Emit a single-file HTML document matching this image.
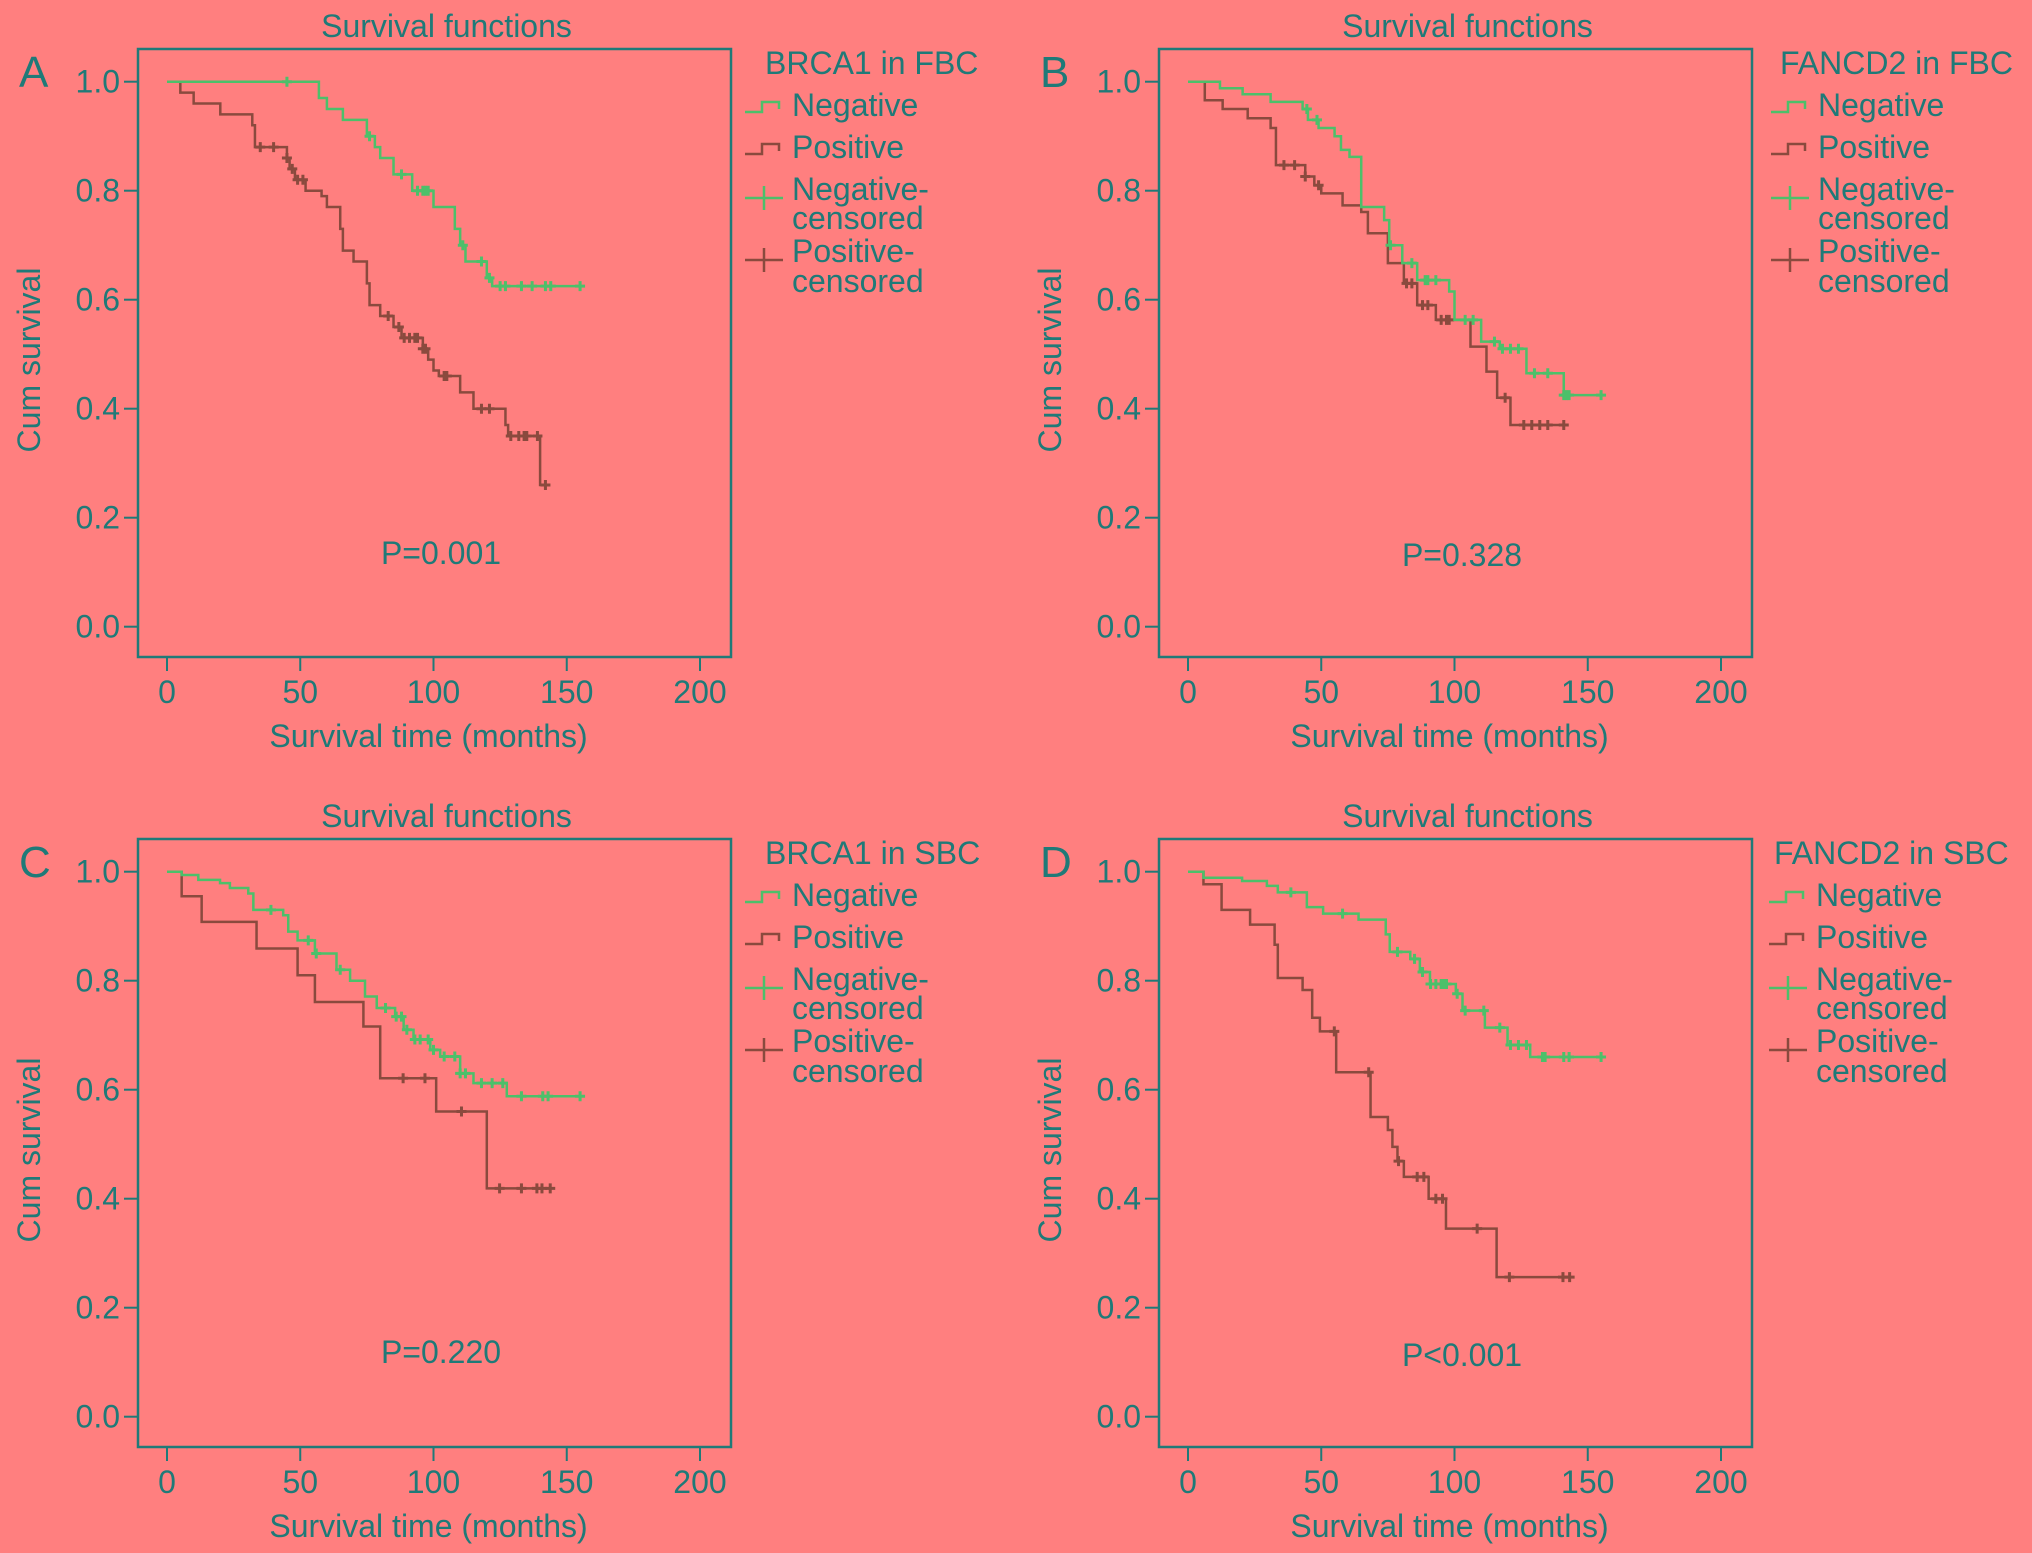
<!DOCTYPE html>
<html><head><meta charset="utf-8"><title>Survival functions</title>
<style>
html,body{margin:0;padding:0;background:#FF7F7F;}
svg{display:block;}
text{font-family:"Liberation Sans",sans-serif;fill:#1f7a78;}
</style></head>
<body>
<svg id="fig" width="2032" height="1553" viewBox="0 0 2032 1553" xmlns="http://www.w3.org/2000/svg">
<rect x="0" y="0" width="2032" height="1553" fill="#FF7F7F"/>
</svg>
<script>
// ---- Data (time in months, cumulative survival) ----
const xTicks = [0, 50, 100, 150, 200];
const yTicks = [0.0, 0.2, 0.4, 0.6, 0.8, 1.0];
const panelLetters = ["A", "B", "C", "D"];
const legendTitles = ["BRCA1 in FBC", "FANCD2 in FBC", "BRCA1 in SBC", "FANCD2 in SBC"];
const pValues = ["P=0.001", "P=0.328", "P=0.220", "P<0.001"];

// Panel A
const aNegTimes = [0, 57, 60, 66, 75, 78, 80, 85, 92, 100, 108, 110, 112, 120, 122];
const aNegSurv  = [1.0, 0.97, 0.95, 0.93, 0.90, 0.88, 0.86, 0.83, 0.80, 0.77, 0.73, 0.70, 0.67, 0.64, 0.625];
const aNegEnd = 155;
const aNegCens = [45, 76, 88, 94, 96, 97, 98, 111, 118, 121, 125, 127, 133, 137, 142, 144, 155];
const aPosTimes = [0, 5, 10, 20, 32, 33, 45, 46, 48, 52, 58, 60, 65, 66, 70, 75, 76, 80, 85, 88, 96, 98, 100, 102, 110, 115, 127, 128, 140];
const aPosSurv  = [1.0, 0.98, 0.96, 0.94, 0.92, 0.88, 0.86, 0.84, 0.82, 0.80, 0.79, 0.77, 0.73, 0.69, 0.67, 0.63, 0.59, 0.57, 0.55, 0.53, 0.51, 0.49, 0.47, 0.46, 0.43, 0.40, 0.37, 0.35, 0.26];
const aPosEnd = 142;
const aPosCens = [35, 40, 45, 47, 49, 51, 83, 87, 89, 91, 93, 94, 96, 97, 104, 105, 118, 121, 129, 132, 134, 135, 139, 142];

// Panel B
const bNegTimes = [0, 12, 20.5, 31, 43, 45, 49, 55, 57.4, 60.6, 65, 73.6, 75.5, 80.4, 86, 98, 100, 110, 117, 127, 141];
const bNegSurv  = [1.0, 0.988, 0.977, 0.963, 0.95, 0.93, 0.915, 0.90, 0.875, 0.862, 0.77, 0.746, 0.70, 0.667, 0.636, 0.615, 0.563, 0.523, 0.51, 0.465, 0.425];
const bNegEnd = 155;
const bNegCens = [44.6, 48.4, 76, 84, 89, 90, 93, 104, 107, 115, 118, 121, 124, 130, 135, 141, 142, 143, 155];
const bPosTimes = [0, 6.3, 13, 22.4, 31, 33, 44, 47.4, 50, 58, 65, 67.5, 75, 81, 86, 93, 106, 112, 116, 121];
const bPosSurv  = [1.0, 0.966, 0.95, 0.933, 0.915, 0.847, 0.826, 0.81, 0.795, 0.773, 0.761, 0.722, 0.667, 0.63, 0.59, 0.563, 0.514, 0.468, 0.42, 0.37];
const bPosEnd = 141;
const bPosCens = [36, 40, 44, 49, 82, 84, 88, 90, 95, 97, 98, 119, 126, 129, 132, 135, 141];

// Panel C
const cNegTimes = [0, 5.5, 11.75, 19.9, 23.6, 30.5, 32.4, 43.6, 45.5, 49, 55.5, 63.6, 68.7, 74.3, 78.7, 85.6, 88.8, 92.5, 98.8, 102.5, 110, 115, 127.5];
const cNegSurv  = [1.0, 0.994, 0.985, 0.979, 0.97, 0.96, 0.93, 0.92, 0.89, 0.874, 0.85, 0.82, 0.80, 0.771, 0.75, 0.734, 0.71, 0.692, 0.673, 0.661, 0.63, 0.612, 0.588];
const cNegEnd = 155;
const cNegCens = [39, 53, 56, 65, 82, 86, 88, 90, 93, 95, 98, 100, 104, 108, 110, 112, 118, 122, 126, 133, 141, 143, 155];
const cPosTimes = [0, 5.5, 13, 33.6, 49, 55.5, 73.7, 80, 101, 120];
const cPosSurv  = [1.0, 0.955, 0.908, 0.859, 0.81, 0.761, 0.716, 0.621, 0.56, 0.419];
const cPosEnd = 143.8;
const cPosCens = [88.6, 96.8, 110.5, 124.8, 133, 138.8, 140.7, 143.8];

// Panel D
const dNegTimes = [0, 5.8, 20.3, 29.6, 33.7, 44.6, 50.7, 64, 74.2, 75.7, 83.4, 87, 90.8, 100.5, 103, 111.4, 119.9, 128.4];
const dNegSurv  = [1.0, 0.989, 0.983, 0.974, 0.962, 0.935, 0.923, 0.912, 0.885, 0.853, 0.84, 0.816, 0.794, 0.776, 0.745, 0.714, 0.682, 0.66];
const dNegEnd = 155;
const dNegCens = [38.6, 58, 78.6, 85, 88, 91, 93, 95, 96, 97, 101, 104, 111, 117, 121, 124, 127, 133, 134, 141, 143, 155];
const dPosTimes = [0, 5.8, 12.6, 23.3, 32.5, 33.7, 43, 46.6, 49.5, 55.6, 68.5, 75, 76.7, 78.6, 81, 90.3, 96.8, 115.8];
const dPosSurv  = [1.0, 0.977, 0.93, 0.903, 0.866, 0.805, 0.783, 0.732, 0.707, 0.632, 0.55, 0.526, 0.495, 0.469, 0.44, 0.40, 0.345, 0.256];
const dPosEnd = 143.7;
const dPosCens = [54.9, 67.8, 79, 86, 88.5, 93, 95.5, 108.5, 120.6, 140.7, 143.2];

const negSeries = [
  {t: aNegTimes, s: aNegSurv, end: aNegEnd, c: aNegCens},
  {t: bNegTimes, s: bNegSurv, end: bNegEnd, c: bNegCens},
  {t: cNegTimes, s: cNegSurv, end: cNegEnd, c: cNegCens},
  {t: dNegTimes, s: dNegSurv, end: dNegEnd, c: dNegCens}];
const posSeries = [
  {t: aPosTimes, s: aPosSurv, end: aPosEnd, c: aPosCens},
  {t: bPosTimes, s: bPosSurv, end: bPosEnd, c: bPosCens},
  {t: cPosTimes, s: cPosSurv, end: cPosEnd, c: cPosCens},
  {t: dPosTimes, s: dPosSurv, end: dPosEnd, c: dPosCens}];

// ---- Layout ----
const NS = "http://www.w3.org/2000/svg";
const svg = document.getElementById("fig");
const TEAL = "#1f7a78", GREEN = "#4cc06a", BROWN = "#8a4a3e";
const panels = [
  {dx: 0, dy: 0, legX: 765, itemX: 792, letterX: 19, pY: 564},
  {dx: 1021, dy: 0, legX: 1780, itemX: 1818, letterX: 1040, pY: 566},
  {dx: 0, dy: 790, legX: 765, itemX: 792, letterX: 19, pY: 1363},
  {dx: 1021, dy: 790, legX: 1774, itemX: 1816, letterX: 1040, pY: 1366}];

function mk(tag, attrs, parent) {
  const e = document.createElementNS(NS, tag);
  for (const k in attrs) e.setAttribute(k, attrs[k]);
  (parent || svg).appendChild(e);
  return e;
}
function txt(str, x, y, size, anchor, parent) {
  const e = mk("text", {x: x, y: y, "font-size": size, "text-anchor": anchor || "start"}, parent);
  e.textContent = str;
  return e;
}

panels.forEach((p, i) => {
  const g = mk("g", {});
  
  
  const fl = 138 + p.dx, fr = 731 + p.dx, ft = 49 + p.dy, fb = 657 + p.dy;
  const X = m => 167 + p.dx + m * (533 / 200);
  const Y = s => 626.7 + p.dy - s * 545;

  const frame = mk("rect", {x: fl, y: ft, width: fr - fl, height: fb - ft, fill: "none", stroke: TEAL, "stroke-width": 2.5}, g);
  
  

  const title = txt("Survival functions", (fl + fr) / 2 + 12, 37 + p.dy, 32, "middle", g);
  
  

  const letter = txt(panelLetters[i], p.letterX, 87 + p.dy, 44, "start", g);
  
  

  yTicks.forEach(v => {
    const tk = mk("line", {x1: fl - 14, x2: fl, y1: Y(v), y2: Y(v), stroke: TEAL, "stroke-width": 2}, g);
    
    
    const tl = txt(v.toFixed(1), fl - 18, Y(v) + 11, 32, "end", g);
    
    
  });
  xTicks.forEach(v => {
    const tk = mk("line", {x1: X(v), x2: X(v), y1: fb, y2: fb + 14, stroke: TEAL, "stroke-width": 2}, g);
    
    
    const tl = txt(String(v), X(v), 703 + p.dy, 32, "middle", g);
    
    
  });
  const xt = txt("Survival time (months)", (fl + fr) / 2 - 6, 747 + p.dy, 32, "middle", g);
  
  
  const yt = txt("Cum survival", 0, 0, 32, "middle", g);
  yt.setAttribute("transform", "translate(" + (40 + p.dx) + "," + (360 + p.dy) + ") rotate(-90)");
  
  

  const pv = txt(pValues[i], 441 + p.dx, p.pY, 32, "middle", g);
  
  

  function drawSeries(sr, color, name) {
    let d = "M" + X(sr.t[0]) + "," + Y(sr.s[0]);
    for (let k = 1; k < sr.t.length; k++) {
      d += " H" + X(sr.t[k]) + " V" + Y(sr.s[k]);
    }
    d += " H" + X(sr.end);
    const path = mk("path", {d: d, fill: "none", stroke: color, "stroke-width": 2.5}, g);
    
    
    sr.c.forEach(ct => {
      let sv = sr.s[0];
      for (let k = 0; k < sr.t.length; k++) if (sr.t[k] <= ct) sv = sr.s[k];
      const m = mk("path", {d: "M" + (X(ct) - 5) + "," + Y(sv) + " H" + (X(ct) + 5) + " M" + X(ct) + "," + (Y(sv) - 5) + " V" + (Y(sv) + 5), stroke: color, "stroke-width": 3, fill: "none"}, g);
      
      
    });
  }
  drawSeries(posSeries[i], BROWN, "positive");
  drawSeries(negSeries[i], GREEN, "negative");

  // Legend
  const lg = mk("g", {}, g);
  
  
  const lt = txt(legendTitles[i], p.legX, 74 + p.dy, 32, "start", lg);
  
  
  const ix = p.itemX;
  const stepIcon = (y, color, name) => {
    const ic = mk("path", {d: "M" + (ix - 47) + "," + (y + 5) + " H" + (ix - 30) + " V" + (y - 5) + " H" + (ix - 13) + " V" + (y + 2), stroke: color, "stroke-width": 2.5, fill: "none"}, lg);
    
    
  };
  const plusIcon = (y, color, name) => {
    const ic = mk("path", {d: "M" + (ix - 47) + "," + y + " H" + (ix - 9) + " M" + (ix - 28) + "," + (y - 12) + " V" + (y + 12), stroke: color, "stroke-width": 2.5, fill: "none"}, lg);
    
    
  };
  stepIcon(107 + p.dy, GREEN, 'legend-negative-icon');
  let e = txt("Negative", ix, 116 + p.dy, 32, "start", lg);
  
  
  stepIcon(149 + p.dy, BROWN, 'legend-positive-icon');
  e = txt("Positive", ix, 158 + p.dy, 32, "start", lg);
  
  
  plusIcon(198 + p.dy, GREEN, 'legend-negative-censored-icon');
  e = txt("Negative-", ix, 200 + p.dy, 32, "start", lg);
  
  
  e = txt("censored", ix, 229 + p.dy, 32, "start", lg);
  
  
  plusIcon(260 + p.dy, BROWN, 'legend-positive-censored-icon');
  e = txt("Positive-", ix, 262 + p.dy, 32, "start", lg);
  
  
  e = txt("censored", ix, 292 + p.dy, 32, "start", lg);
  
  
});
</script>
</body></html>
